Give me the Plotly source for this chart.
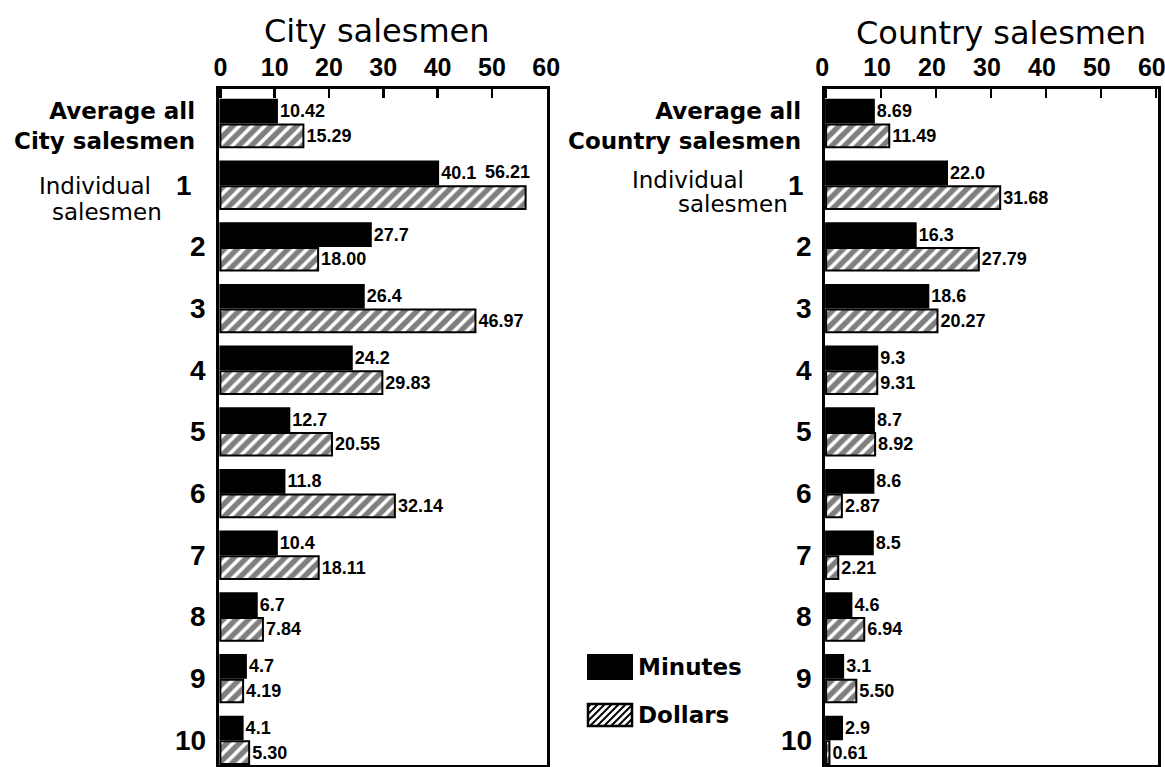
import plotly.graph_objects as go

# ---------------- data ----------------
groups = ["Average", "1", "2", "3", "4", "5", "6", "7", "8", "9", "10"]
city_minutes = [10.42, 40.1, 27.7, 26.4, 24.2, 12.7, 11.8, 10.4, 6.7, 4.7, 4.1]
city_dollars = [15.29, 56.21, 18.00, 46.97, 29.83, 20.55, 32.14, 18.11, 7.84, 4.19, 5.30]
country_minutes = [8.69, 22.0, 16.3, 18.6, 9.3, 8.7, 8.6, 8.5, 4.6, 3.1, 2.9]
country_dollars = [11.49, 31.68, 27.79, 20.27, 9.31, 8.92, 2.87, 2.21, 6.94, 5.50, 0.61]
city_minutes_txt = ["10.42", "40.1", "27.7", "26.4", "24.2", "12.7", "11.8", "10.4", "6.7", "4.7", "4.1"]
city_dollars_txt = ["15.29", "56.21", "18.00", "46.97", "29.83", "20.55", "32.14", "18.11", "7.84", "4.19", "5.30"]
country_minutes_txt = ["8.69", "22.0", "16.3", "18.6", "9.3", "8.7", "8.6", "8.5", "4.6", "3.1", "2.9"]
country_dollars_txt = ["11.49", "31.68", "27.79", "20.27", "9.31", "8.92", "2.87", "2.21", "6.94", "5.50", "0.61"]
x_ticks = [0, 10, 20, 30, 40, 50, 60]
left_labels = ["Average all<br>City salesmen", "1", "2", "3", "4", "5", "6", "7", "8", "9", "10"]
right_labels = ["Average all<br>Country salesmen", "1", "2", "3", "4", "5", "6", "7", "8", "9", "10"]
panel_titles = ["City salesmen", "Country salesmen"]
series_names = ["Minutes", "Dollars"]

W, H = 1165, 767
NARROW = "Liberation Sans, Arial, sans-serif"
ROUND = "DejaVu Sans, Verdana, sans-serif"


def px(x):
    return x / W


def py(y):
    return 1 - y / H


fig = go.Figure()

hatch = dict(shape="/", fgcolor="black", bgcolor="white", size=9, solidity=0.6)

# which dollar label is moved up (the one too close to the border)
city_dollar_pos = ["outside" if v < 55 else "none" for v in city_dollars]

panels = [
    ("x", "y", city_minutes, city_dollars, city_minutes_txt, city_dollars_txt, city_dollar_pos),
    ("x2", "y2", country_minutes, country_dollars, country_minutes_txt, country_dollars_txt,
     ["outside"] * len(country_dollars)),
]
VAL_FONT = dict(family=NARROW, size=18, color="black", weight="bold")
for xa, ya, mins, dols, mt, dt, dpos in panels:
    fig.add_trace(go.Bar(
        y=groups, x=mins, orientation="h", name=series_names[0], xaxis=xa, yaxis=ya,
        marker=dict(color="black", line=dict(color="black", width=2)),
        text=mt, textposition="outside", cliponaxis=False, constraintext="none",
        textfont=VAL_FONT, showlegend=False, hoverinfo="skip",
    ))
    fig.add_trace(go.Bar(
        y=groups, x=dols, orientation="h", name=series_names[1], xaxis=xa, yaxis=ya,
        marker=dict(color="white", pattern=hatch, line=dict(color="black", width=2)),
        text=dt, textposition=dpos, cliponaxis=False, constraintext="none",
        textfont=VAL_FONT, showlegend=False, hoverinfo="skip",
    ))

axis_common = dict(
    showline=True, linewidth=3, linecolor="black", mirror=True,
    showgrid=False, zeroline=False, automargin=False,
)
xcommon = dict(axis_common, side="top", tickvals=x_ticks, ticks="inside", ticklen=9,
               tickwidth=2.5, tickcolor="black", ticklabeloverflow="allow",
               tickfont=dict(family=NARROW, size=25, color="black", weight="bold"))
ycommon = dict(axis_common, type="category", categoryarray=groups, categoryorder="array",
               range=[10.40, -0.56], showticklabels=False, ticks="",
               domain=[2 / H, py(89)])

fig.update_layout(
    width=W, height=H,
    margin=dict(l=0, r=0, t=0, b=0, autoexpand=False),
    paper_bgcolor="white", plot_bgcolor="white",
    barmode="group", bargap=0.2, bargroupgap=0.08,
    xaxis=dict(xcommon, domain=[px(219), px(547)], range=[-0.25, 60.15], anchor="y"),
    yaxis=dict(ycommon, anchor="x"),
    xaxis2=dict(xcommon, domain=[px(825), px(1158)], range=[-0.2, 60.4], anchor="y2",
                ticklabelshift=-4),
    yaxis2=dict(ycommon, anchor="x2"),
    showlegend=False,
)

ann = []


def txt(text, x, y, size, family=ROUND, weight="normal", xanchor="center"):
    return dict(text=text, x=px(x), y=py(y), xref="paper", yref="paper",
                xanchor=xanchor, yanchor="middle", showarrow=False,
                font=dict(family=family, size=size, color="black", weight=weight))


# panel titles
ann.append(txt(panel_titles[0], 377, 31, 32))
ann.append(txt(panel_titles[1], 1001, 33, 32))

# category labels
for labels, xr, yr, shift_num, shift_one in [
    (left_labels, "x domain", "y", -11, -25),
    (right_labels, "x2 domain", "y2", -11, -19),
]:
    for i, (g, lab) in enumerate(zip(groups, labels)):
        if i == 0:
            ann.append(dict(text=lab, x=0, y=g, xref=xr, yref=yr, xanchor="right",
                            yanchor="middle", xshift=-22, yshift=-2, align="right",
                            showarrow=False,
                            font=dict(family=ROUND, size=23, color="black", weight="bold")))
        else:
            ann.append(dict(text=lab, x=0, y=g, xref=xr, yref=yr, xanchor="right",
                            yanchor="middle", xshift=shift_one if i == 1 else shift_num,
                            showarrow=False,
                            font=dict(family=NARROW, size=28, color="black", weight="bold")))

# "Individual salesmen" side labels
ann.append(txt("Individual", 95, 186, 23))
ann.append(txt("salesmen", 107, 212, 23))
ann.append(txt("Individual", 688, 180, 23))
ann.append(txt("salesmen", 733, 204, 23))

# dollar label that sits on the minutes row (too close to the frame)
for g, v, t, p in zip(groups, city_dollars, city_dollars_txt, city_dollar_pos):
    if p == "none":
        ann.append(dict(text=t, x=v, y=g, xref="x", yref="y", xanchor="right",
                        yanchor="middle", xshift=6, yshift=13, showarrow=False,
                        font=VAL_FONT))

# legend (drawn manually to match the large swatches)
sw_x0, sw_x1 = 588, 632
ann.append(txt(series_names[0], 636, 667, 23, weight="bold", xanchor="left"))
ann.append(txt(series_names[1], 636, 715, 23, weight="bold", xanchor="left"))

shapes = []
shapes.append(dict(type="rect", xref="paper", yref="paper", x0=px(sw_x0), x1=px(sw_x1),
                   y0=py(679), y1=py(655), fillcolor="black", line=dict(color="black", width=2)))
hy0, hy1 = 704, 726
shapes.append(dict(type="rect", xref="paper", yref="paper", x0=px(sw_x0), x1=px(sw_x1),
                   y0=py(hy1), y1=py(hy0), fillcolor="white", line=dict(color="black", width=2.5)))
hw, hh = sw_x1 - sw_x0, hy1 - hy0
c = -hh + 3
while c < hw - 2:
    xa = max(0, c)
    xb = min(hw, c + hh)
    shapes.append(dict(type="line", xref="paper", yref="paper",
                       x0=px(sw_x0 + xa), y0=py(hy1 - (xa - c)),
                       x1=px(sw_x0 + xb), y1=py(hy1 - (xb - c)),
                       line=dict(color="black", width=2)))
    c += 7

fig.update_layout(annotations=ann, shapes=shapes)

fig.write_html(
    "out.html",
    config={"displayModeBar": False, "staticPlot": True},
    post_script="document.body.style.margin='0';document.body.style.overflow='hidden';",
)
